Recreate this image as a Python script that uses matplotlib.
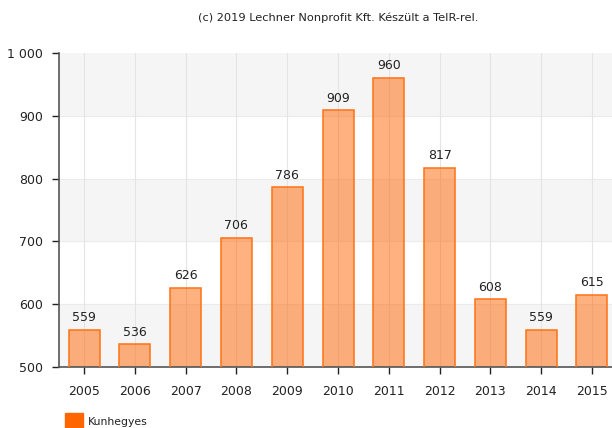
import matplotlib.pyplot as plt
from matplotlib.patches import Rectangle
from matplotlib.ticker import FuncFormatter

# Kunhegyes, évenkénti értékek
evek = ["2005", "2006", "2007", "2008", "2009", "2010", "2011", "2012", "2013", "2014", "2015"]
ertekek = [559, 536, 626, 706, 786, 909, 960, 817, 608, 559, 615]
y_ticks = [500, 600, 700, 800, 900, 1000]

plt.rcParams["font.family"] = ["DejaVu Sans"]

fig = plt.figure(figsize=(6.12, 4.28), dpi=100)
ax = fig.add_axes([0.0958, 0.1425, 0.913, 0.7336])

x = list(range(len(evek)))
ax.set_xlim(-0.5, len(evek) - 0.5)
ax.set_ylim(500, 1000)

# váltakozó háttérsávok
for i, lo in enumerate(y_ticks[:-1]):
    if i % 2 == 0:
        ax.axhspan(lo, lo + 100, color="#f5f5f5", zorder=0, lw=0)
for t in y_ticks[1:-1]:
    ax.axhline(t, color="#ebebeb", lw=0.8, zorder=0.5)
for xi in x:
    ax.axvline(xi, color="#e4e4e4", lw=0.8, zorder=0.5)

ax.bar(x, ertekek, width=0.61, color="#ff6600", alpha=0.5,
       edgecolor="none", zorder=1)
ax.bar(x, ertekek, width=0.61, fill=False, edgecolor="#ff7215",
       linewidth=1.1, zorder=3)

for xi, v in zip(x, ertekek):
    ax.text(xi, v + 9, str(v), ha="center", va="bottom", fontsize=9, color="#222222")

ax.set_xticks(x)
ax.set_xticklabels(evek)
ax.set_yticks(y_ticks)
ax.yaxis.set_major_formatter(FuncFormatter(lambda v, p: f"{int(v):,}".replace(",", " ")))
ax.tick_params(axis="both", labelsize=9, colors="#222222", length=5, width=1)
ax.tick_params(axis="x", pad=8)
ax.tick_params(axis="y", pad=6)
for s in ["top", "right"]:
    ax.spines[s].set_visible(False)
for s in ["left", "bottom"]:
    ax.spines[s].set_color("#555555")
    ax.spines[s].set_linewidth(1.2)

fig.text(0.552, 0.958, "(c) 2019 Lechner Nonprofit Kft. Készült a TeIR-rel.",
         ha="center", va="center", fontsize=8.2, color="#222222")

# jelmagyarázat
fig.patches.append(Rectangle((65 / 612, 0), 18 / 612, 15 / 428,
                             transform=fig.transFigure, color="#ff6600"))
fig.text(88 / 612, 6 / 428, "Kunhegyes", ha="left", va="center", fontsize=7.8, color="#222222")

fig.savefig("out.png", dpi=100)
